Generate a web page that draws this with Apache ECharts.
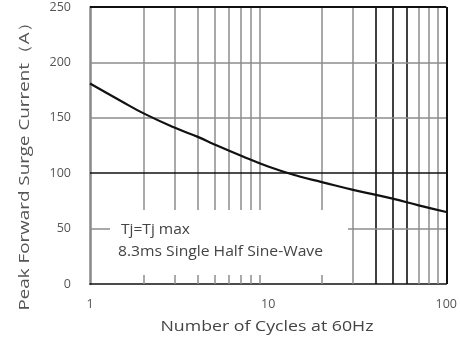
<!DOCTYPE html>
<html><head><meta charset="utf-8">
<script src="https://cdn.jsdelivr.net/npm/echarts@6/dist/echarts.min.js"></script>
<style>html,body{margin:0;padding:0;background:#fff}#c{width:460px;height:341px}</style>
</head><body><div id="c"></div>
<script>
const cycles = [1, 1.5, 2, 3, 4, 5, 7, 10, 15, 20, 30, 50, 70, 100];
const current = [181, 165, 154, 141, 133, 126, 116, 106, 97, 92, 85, 77, 71, 65];
const vGray = [2, 3, 4, 5, 6, 7, 8, 9, 20, 30, 70, 80, 90];
const vBlack = [40, 50, 60];
const hGray = [50, 150, 200];
const hBlack = [100];
const noteLines = ['Tj=Tj max', '8.3ms Single Half Sine-Wave'];
const xName = 'Number of Cycles at 60Hz';
const yName = 'Peak Forward Surge Current（A）';

const FONT = '"Open Sans"';
const mctx = document.createElement('canvas').getContext('2d');
function w(txt, size) { mctx.font = size + 'px ' + FONT; return mctx.measureText(txt).width; }
function sx(txt, size, target) { return target / w(txt, size); }

const gray = {color: '#8c8c8c', width: 1.5, type: 'solid'};
const black = {color: '#111', width: 1.6, type: 'solid'};
const mlData = [];
vGray.forEach(v => mlData.push({xAxis: v, lineStyle: gray}));
vBlack.forEach(v => mlData.push({xAxis: v, lineStyle: black}));
hGray.forEach(v => mlData.push({yAxis: v, lineStyle: gray}));
hBlack.forEach(v => mlData.push({yAxis: v, lineStyle: black}));
mlData.push({yAxis: 250, lineStyle: {color: '#111', width: 2.2, type: 'solid'}});
mlData.push({xAxis: 100, lineStyle: {color: '#111', width: 2, type: 'solid'}});

const chart = echarts.init(document.getElementById('c'));
chart.setOption({
  animation: false,
  grid: {left: 90, right: 8, top: 7, bottom: 57},
  xAxis: {
    type: 'log', logBase: 10, min: 1, max: 100,
    axisLine: {show: true, lineStyle: {color: '#111', width: 1.6}},
    axisTick: {show: false},
    splitLine: {show: false},
    axisLabel: {fontFamily: 'Open Sans', fontSize: 12.5, color: '#555', margin: 14}
  },
  yAxis: {
    type: 'value', min: 0, max: 250, interval: 50,
    axisLine: {show: true, lineStyle: {color: '#888', width: 2.5}},
    axisTick: {show: false},
    splitLine: {show: false},
    axisLabel: {fontFamily: 'Open Sans', fontSize: 12.5, color: '#555', margin: 19}
  },
  graphic: [
    {type: 'rect', shape: {x: 110, y: 210, width: 238, height: 65}, style: {fill: '#fff'}, z: 100},
    {type: 'text', x: 121, y: 230, z: 101, scaleX: sx(noteLines[0], 14, 69),
     style: {text: noteLines[0], font: '14px ' + FONT, fill: '#444', verticalAlign: 'middle'}},
    {type: 'text', x: 118, y: 252, z: 101, scaleX: sx(noteLines[1], 14, 205),
     style: {text: noteLines[1], font: '14px ' + FONT, fill: '#444', verticalAlign: 'middle'}},
    {type: 'text', x: 267, y: 327, z: 101, scaleX: sx(xName, 14, 213),
     style: {text: xName, font: '14px ' + FONT, fill: '#444', align: 'center', verticalAlign: 'middle'}},
    {type: 'text', x: 25, y: 162, z: 101, rotation: Math.PI / 2, scaleX: sx(yName, 15, 297),
     style: {text: yName, font: '15px ' + FONT, fill: '#555', align: 'center', verticalAlign: 'middle'}}
  ],
  series: [{
    type: 'line',
    data: cycles.map((c, i) => [c, current[i]]),
    smooth: true, showSymbol: false,
    lineStyle: {color: '#111', width: 2.2},
    z: 5,
    markLine: {silent: true, symbol: 'none', label: {show: false}, data: mlData}
  }]
});
</script></body></html>
